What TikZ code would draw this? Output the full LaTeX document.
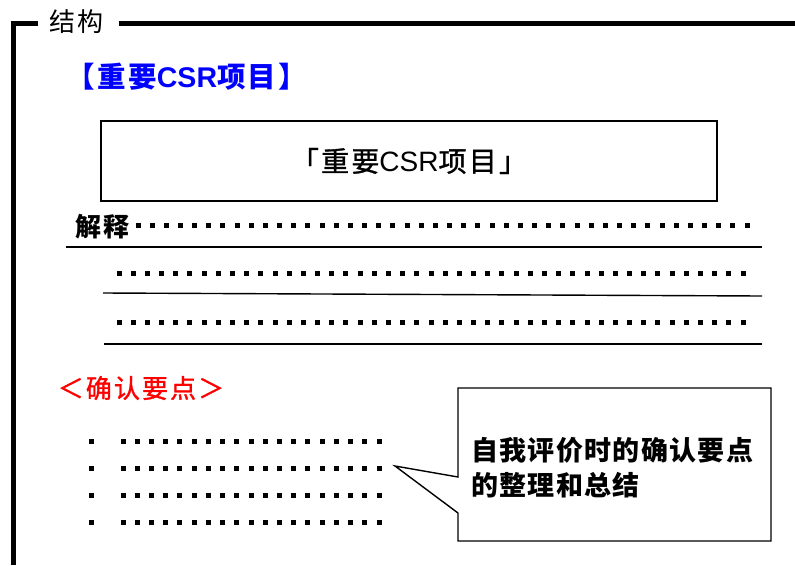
\documentclass[tikz,border=0pt]{standalone}
\usepackage{fontspec}
\setmainfont{Noto Sans CJK SC}
\newfontfamily\cjk[LetterSpace=8]{Noto Sans CJK SC}
\newfontfamily\cjkmed[LetterSpace=8, FakeBold=1.2]{Noto Sans CJK SC}
\newfontfamily\cjkcall[LetterSpace=5]{Noto Sans CJK SC}
\newfontfamily\arialfont{Liberation Sans}
\tikzset{
  frameline/.style={line width=5pt},
  thinline/.style={line width=1.4pt},
  lbl/.style={inner sep=0pt, font=\cjk\fontsize{26}{35}\selectfont},
}
\newcommand\dotrow[4]{%
  \pgfmathsetmacro\dotpitch{(#3-#2)/#4}%
  \foreach \i in {0,...,#4}{\fill ({#2+\dotpitch*\i-2.5},{#1-2.5}) rectangle ++(5,5);}}
\begin{document}
\begin{tikzpicture}[x=1pt,y=-1pt]
\useasboundingbox (0,0) rectangle (795,565);
% frame
\node[lbl, anchor=west] (ttl) at (49,22) {结构};
\draw[frameline] (38,23.5) -- (13,23.5) -- (13,565);
\draw[frameline] (119,23.5) -- (795,23.5);
% blue title
\node[lbl, text=blue, font=\fontsize{28.5}{35}\selectfont] (blue) at (187,77)
  {\cjk\bfseries【重要\arialfont\bfseries CSR\cjk\bfseries 项目】};
% box
\node[draw, thinline, minimum width=616pt, minimum height=80pt, inner sep=0pt] (box) at (409,161) {};
\node[lbl, font=\fontsize{28}{35}\selectfont] (boxtext) at (box.center)
  {\cjkmed「重要\arialfont CSR\cjkmed 项目」};
% explanation
\node[lbl, font=\cjk\bfseries\fontsize{26}{35}\selectfont, anchor=west] (expl) at (75,227) {解释};
\dotrow{225}{138}{747}{43}
\draw[thinline] (66,247) -- (762,247);
\dotrow{273}{119}{743}{44}
\draw[thinline] (103,293) -- (762,296);
\dotrow{322}{119}{743}{44}
\draw[thinline] (104,344) -- (762,344);
% check points
\node[lbl, text=red, font=\cjkmed\fontsize{26}{35}\selectfont] (red) at (141,388) {＜确认要点＞};
\foreach \y in {441,468,495,522}{
  \fill (88.5,\y-2.5) rectangle ++(5,5);
  \dotrow{\y}{123}{379}{18}
}
% callout
\draw[thinline] (458,388) -| (771,541) -| (458,513) -- (395,466) -- (458,477) -- cycle;
\node[lbl, font=\cjkcall\bfseries\fontsize{27}{35}\selectfont, anchor=west, align=left] (call) at (471,467.5) {自我评价时的确认要点\\的整理和总结};
\end{tikzpicture}
\end{document}
